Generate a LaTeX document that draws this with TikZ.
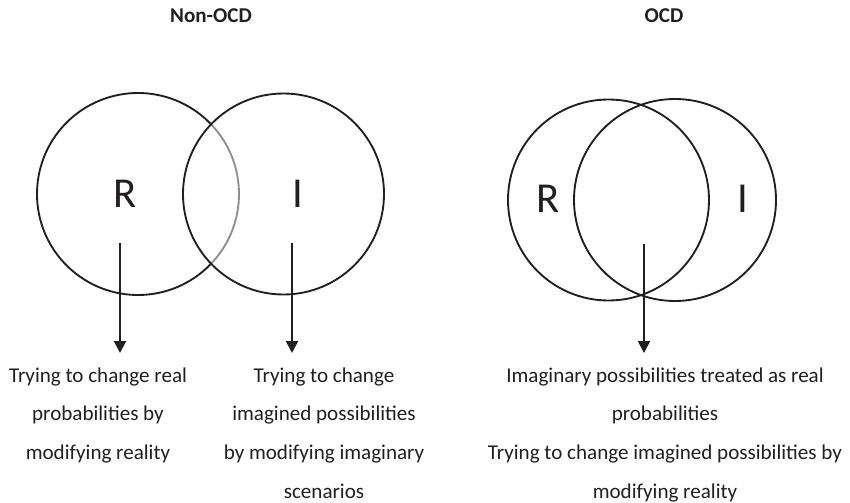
\documentclass[tikz,border=0pt]{standalone}
\usepackage{fontspec}
\setmainfont{Carlito}
\usetikzlibrary{arrows.meta}
\definecolor{ink}{rgb}{0.13,0.12,0.12}
\definecolor{arcgray}{rgb}{0.56,0.56,0.56}

\begin{document}
\begin{tikzpicture}[
  x=0.75pt,y=-0.75pt,
  >={Triangle[width=9pt,length=9pt]},
  every node/.style={text=ink,inner sep=0pt},
  venn/.style={draw=ink,line width=1.4pt},
  letter/.style={font=\fontsize{32}{38}\selectfont,anchor=base},
  heading/.style={font=\fontsize{15.8}{19}\selectfont\bfseries,anchor=base},
  caption/.style={font=\fontsize{15.8}{29}\selectfont,align=center,anchor=base},
  map/.style={->,draw=ink,line width=1.5pt}
]
  \useasboundingbox (0,0) rectangle (850,503);

  % Non-OCD: two sets side by side
  \coordinate (realL) at (138,194);
  \coordinate (imagL) at (283.5,194);
  \draw[venn] ([shift={(44:101)}]realL) arc[start angle=44,end angle=316,radius=101];
  \draw[venn,draw=arcgray] ([shift={(-44:101)}]realL) arc[start angle=-44,end angle=44,radius=101];
  \draw[venn] (imagL) circle[radius=100.5];
  \node[heading] (nonocd) at (211,23) {Non-OCD};
  \node[letter] (rL) at (125,207) {R};
  \node[letter] (iL) at (298,207) {I};

  % OCD: the sets mostly overlap
  \coordinate (realR) at (608.5,200);
  \coordinate (imagR) at (675,200);
  \draw[venn] (realR) circle[radius=100.5];
  \draw[venn] (imagR) circle[radius=101];
  \node[heading] (ocd) at (664,23) {OCD};
  \node[letter] (rR) at (548,212) {R};
  \node[letter] (iR) at (743,212) {I};

  % arrows down to the captions
  \coordinate (rfrom) at (120,243);  \coordinate (rto) at (120,353);
  \coordinate (ifrom) at (292,243);  \coordinate (ito) at (292,353);
  \coordinate (ofrom) at (644,244);  \coordinate (oto) at (644,353);
  \draw[map] (rfrom) -- (rto);
  \draw[map] (ifrom) -- (ito);
  \draw[map] (ofrom) -- (oto);

  % captions sit on the baseline of their last line
  \node[caption] (realtxt) at (98,459.5) {Trying to change real\\probabilities by\\modifying reality};
  \node[caption] (imagtxt) at (324,498) {Trying to change\\imagined possibilities\\by modifying imaginary\\scenarios};
  \node[caption] (ocdtxt) at (665,498) {Imaginary possibilities treated as real\\probabilities\\Trying to change imagined possibilities by\\modifying reality};
\end{tikzpicture}
\end{document}
